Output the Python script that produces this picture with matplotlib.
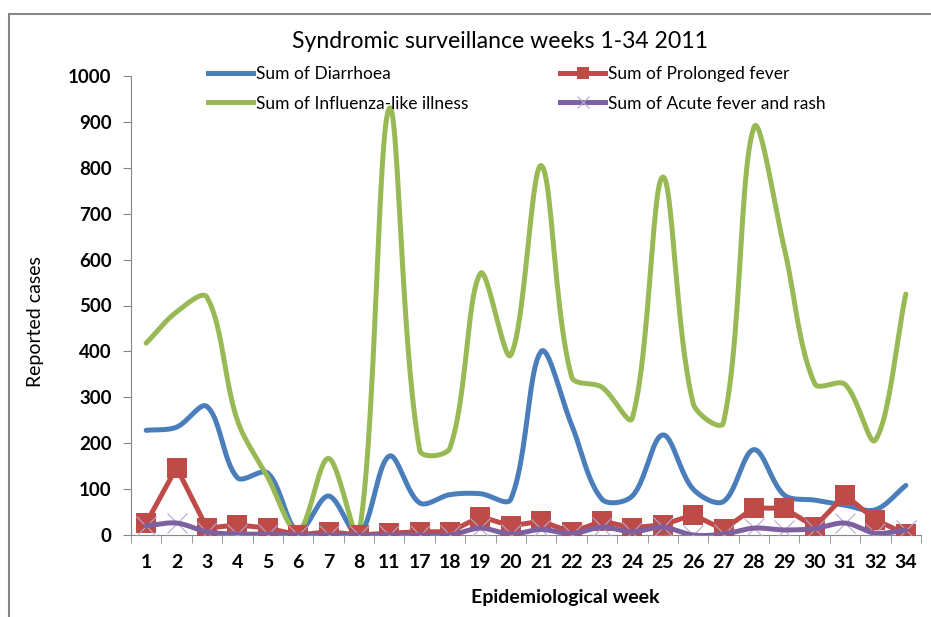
import numpy as np
import matplotlib
matplotlib.use('Agg')
import matplotlib.pyplot as plt
from matplotlib.patches import Rectangle

weeks = ['1', '2', '3', '4', '5', '6', '7', '8', '11', '17', '18', '19', '20',
         '21', '22', '23', '24', '25', '26', '27', '28', '29', '30', '31', '32', '34']

diarrhoea = [228, 235, 280, 125, 135, 8, 85, 0, 172, 70, 88, 90, 78,
             400, 240, 78, 85, 218, 100, 73, 186, 87, 76, 65, 55, 108]
prolonged_fever = [26, 147, 15, 22, 15, 0, 7, 0, 4, 7, 7, 40, 20,
                   30, 6, 30, 16, 22, 44, 12, 59, 58, 18, 87, 33, 2]
influenza = [418, 486, 518, 250, 126, 8, 167, 0, 930, 185, 190, 570, 392,
             805, 345, 322, 255, 780, 287, 245, 888, 625, 330, 328, 207, 525]
fever_rash = [20, 26, 7, 2, 2, 0, 0, 0, 0, 0, 0, 15, 2,
              12, 3, 17, 7, 17, 0, 2, 15, 11, 14, 26, 4, 11]

BLUE = '#4a7ebb'
RED = '#be4b48'
GREEN = '#98b954'
PURPLE = '#7d60a0'

FONT = ['Lato', 'DejaVu Sans']

# pixel scale of the plot area, used so the smoothing behaves like excel's
XPX = 30.4
YPX = 0.459


def smooth(x, y, n=24):
    # bezier smoothing with control points scaled by segment length
    p = np.column_stack([np.asarray(x, float) * XPX, np.asarray(y, float) * YPX])
    p = np.vstack([p[0], p, p[-1]])
    t = np.linspace(0, 1, n, endpoint=False)[:, None]
    out = []
    for i in range(len(p) - 3):
        p0, p1, p2, p3 = p[i], p[i + 1], p[i + 2], p[i + 3]
        d01 = np.hypot(*(p1 - p0))
        d12 = np.hypot(*(p2 - p1))
        d23 = np.hypot(*(p3 - p2))
        c1 = p1 + (p2 - p0) / 3.0 * d12 / max(d01 + d12, 1e-9)
        c2 = p2 - (p3 - p1) / 3.0 * d12 / max(d12 + d23, 1e-9)
        b = (1 - t) ** 3 * p1 + 3 * (1 - t) ** 2 * t * c1 \
            + 3 * (1 - t) * t ** 2 * c2 + t ** 3 * p2
        out.append(b)
    out.append(p[-1][None, :])
    out = np.vstack(out)
    return out[:, 0] / XPX, out[:, 1] / YPX


fig = plt.figure(figsize=(9.31, 6.17), dpi=100)
fig.patches.append(Rectangle((9 / 931, -0.1), 1.2, (617 - 14) / 617 + 0.1,
                             transform=fig.transFigure, fill=False,
                             edgecolor='#868686', linewidth=1.5))

ax = fig.add_axes([131 / 931, (617 - 535) / 617, (921 - 131) / 931, (535 - 76) / 617])
x = np.arange(len(weeks))

lw = 3.6
sx, sy = smooth(x, diarrhoea)
ax.plot(sx, sy, color=BLUE, lw=lw, solid_capstyle='round', zorder=3)
sx, sy = smooth(x, influenza)
ax.plot(sx, sy, color=GREEN, lw=lw, solid_capstyle='round', zorder=4)
ax.plot(x, prolonged_fever, color=RED, lw=lw, marker='s', markersize=14,
        markeredgewidth=0, zorder=5)
ax.plot(x, fever_rash, linestyle='none', marker='x', markersize=14,
        markeredgewidth=0.8, color='#b4a7d6', zorder=6)
sx, sy = smooth(x, fever_rash)
ax.plot(sx, sy, color=PURPLE, lw=lw, solid_capstyle='round', zorder=7)

ax.set_xlim(-0.5, len(weeks) - 0.5)
ax.set_ylim(0, 1000)
ax.set_yticks(range(0, 1001, 100))
ax.set_yticklabels([str(v) for v in range(0, 1001, 100)], fontsize=13.5,
                   fontweight='bold', family=FONT)
ax.set_xticks(x)
ax.set_xticklabels(weeks, fontsize=14, fontweight='bold', family=FONT)
ax.set_xticks(np.arange(-0.5, len(weeks)), minor=True)
ax.tick_params(axis='x', which='major', length=0, pad=14)
ax.tick_params(axis='x', which='minor', length=6, color='#868686', direction='out')
ax.tick_params(axis='y', length=6, color='#868686', pad=8)
for side in ['top', 'right']:
    ax.spines[side].set_visible(False)
for side in ['left', 'bottom']:
    ax.spines[side].set_color('#868686')

ax.set_ylabel('Reported cases', fontsize=14, family=FONT)
ax.yaxis.set_label_coords(-(131 - 44) / 790, (535 - 322) / 459)
ax.set_xlabel('Epidemiological week', fontsize=14, fontweight='bold', family=FONT)
ax.xaxis.set_label_coords((565 - 131) / 790, -(589 - 535) / 459)
fig.text(500 / 931, 1 - 42 / 617, 'Syndromic surveillance weeks 1-34 2011',
         ha='center', va='center', fontsize=16.6, family=FONT)

h1, = ax.plot([], [], color=BLUE, lw=lw)
h2, = ax.plot([], [], color=RED, lw=lw, marker='s', markersize=8, markeredgewidth=0)
h3, = ax.plot([], [], color=GREEN, lw=lw)
h4, = ax.plot([], [], color=PURPLE, lw=lw, marker='x', markersize=8,
              markeredgecolor='#b4a7d6', markeredgewidth=0.8)
leg_kw = dict(loc='upper left', frameon=False, handlelength=2.6,
              handletextpad=0.15, labelspacing=0.78, borderpad=0, borderaxespad=0,
              bbox_transform=fig.transFigure, prop={'family': FONT, 'size': 12.5})
leg1 = ax.legend([h1, h3], ['Sum of Diarrhoea', 'Sum of Influenza-like illness'],
                 bbox_to_anchor=(208 / 931, 1 - 66 / 617), **leg_kw)
ax.add_artist(leg1)
ax.legend([h2, h4], ['Sum of Prolonged fever', 'Sum of Acute fever and rash'],
          bbox_to_anchor=(560 / 931, 1 - 66 / 617), **leg_kw)

fig.savefig('out.png', dpi=100)
